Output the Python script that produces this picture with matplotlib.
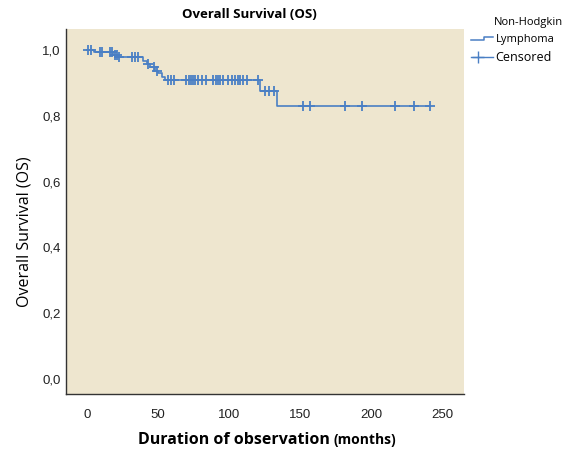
import numpy as np
import matplotlib
matplotlib.use("Agg")
import matplotlib.pyplot as plt
from matplotlib.lines import Line2D
from matplotlib.legend_handler import HandlerBase

# ---- data ----
step_times = [0, 5, 18, 22, 39.5, 42, 44.5, 48, 50, 53, 55, 122, 133.5]
step_surv = [1.0, 0.993, 0.985, 0.979, 0.968, 0.957, 0.947, 0.937, 0.929, 0.919, 0.910, 0.874, 0.831]
end_time = 241.5
censor_times = [1, 3, 9, 10.5, 16, 17.5, 20, 21, 22.5, 32, 34, 36, 43, 47, 49.5,
                57, 59.5, 61, 70, 72, 73, 74.5, 76, 78.5, 81, 84, 89, 91, 92.5, 94, 96,
                99.5, 102, 104, 106, 108, 110, 112.5, 120.5,
                125, 128.5, 131.5,
                152, 157, 181.5, 193.5, 217, 230, 241.5]
x_ticks = [0, 50, 100, 150, 200, 250]
y_ticks = [0.0, 0.2, 0.4, 0.6, 0.8, 1.0]
y_ticklabels = ["0,0", "0,2", "0,4", "0,6", "0,8", "1,0"]
series_label_top = "Non-Hodgkin"
series_label = "Lymphoma"

BLUE = "#4A7FC4"
BG = "#EEE6CF"

fig = plt.figure(figsize=(5.7, 4.49), dpi=100)
ax = fig.add_axes([66/570, 1-394/449, (464-66)/570, (394-29)/449])
ax.set_facecolor(BG)

xs = list(step_times) + [end_time]
ys = list(step_surv) + [step_surv[-1]]
ax.step(xs, ys, where="post", color=BLUE, lw=1.2)

idx = np.searchsorted(step_times, censor_times, side="right") - 1
cy = np.array(step_surv)[idx]
ax.plot(censor_times, cy, ls="none", marker="+", ms=7.5, mew=1.3, color=BLUE)

ax.set_xlim(-14.8, 265.5)
ax.set_ylim(-0.046, 1.064)
ax.set_xticks(x_ticks)
ax.set_xticklabels([str(t) for t in x_ticks])
ax.set_yticks(y_ticks)
ax.set_yticklabels(y_ticklabels)
ax.tick_params(axis="both", length=0, labelsize=9.5, labelcolor="#222222")
ax.tick_params(axis="x", pad=11)
ax.tick_params(axis="y", pad=4)
for lab in ax.get_xticklabels() + ax.get_yticklabels():
    lab.set_family("Liberation Sans")
for s in ["top", "right"]:
    ax.spines[s].set_visible(False)
for s in ["left", "bottom"]:
    ax.spines[s].set_color("#333333")
    ax.spines[s].set_linewidth(1.0)

fig.text(249/570, 1-15/449, "Overall Survival (OS)", ha="center", va="center",
         fontsize=9.5, fontweight="bold", family="Open Sans")
fig.text(25/570, 1-232/449, "Overall Survival (OS)", ha="center", va="center",
         rotation=90, fontsize=11.5, family="Open Sans")
fig.text(330/570, 1-440/449, "Duration of observation", ha="right", va="center",
         fontsize=11.5, fontweight="bold", family="Open Sans")
fig.text(333/570, 1-440/449, "(months)", ha="left", va="center",
         fontsize=10, fontweight="bold", family="Open Sans")


class HandlerStep(HandlerBase):
    def create_artists(self, legend, orig_handle, xdescent, ydescent, width, height, fontsize, trans):
        x0 = -xdescent
        y0 = -ydescent
        xm = x0 + width * 0.6
        l = Line2D([x0, xm, xm, x0 + width], [y0 + height * 0.2, y0 + height * 0.2, y0 + height * 0.6, y0 + height * 0.6],
                   color=BLUE, lw=1.1, transform=trans)
        return [l]


class HandlerCensor(HandlerBase):
    def create_artists(self, legend, orig_handle, xdescent, ydescent, width, height, fontsize, trans):
        x0 = -xdescent
        y0 = -ydescent + height * 0.5
        l = Line2D([x0, x0 + width], [y0, y0], color=BLUE, lw=1.0, transform=trans)
        m = Line2D([x0 + width * 0.3], [y0], color=BLUE, ls="none", marker="+",
                   ms=9, mew=1.0, transform=trans)
        return [l, m]


h1 = Line2D([0], [0], color=BLUE)
h2 = Line2D([0], [0], color=BLUE)
leg = fig.legend([h1, h2], [series_label, "Censored"], loc="upper left",
                 bbox_to_anchor=(461/570, 1-24/449), frameon=False,
                 handler_map={h1: HandlerStep(), h2: HandlerCensor()}, handlelength=2.0,
                 handletextpad=0.2, labelspacing=0.55, numpoints=1,
                 prop={"family": "Open Sans", "size": 8})
for t in leg.get_texts():
    if t.get_text() == "Censored":
        t.set_fontsize(9)
fig.text(494/570, 1-22/449, series_label_top, ha="left", va="center",
         fontsize=8, family="Open Sans")

fig.savefig("out.png", dpi=100)
